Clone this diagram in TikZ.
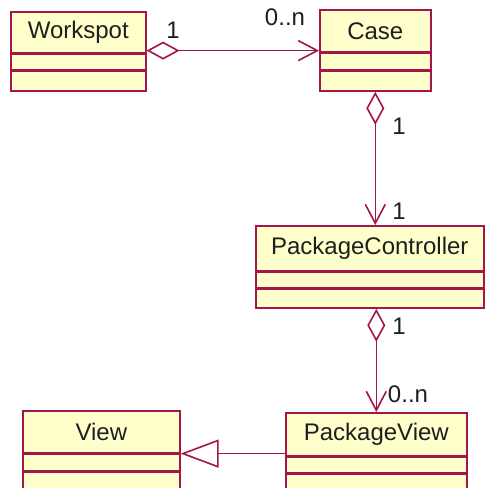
\documentclass[tikz,border=0pt]{standalone}
\usepackage{fontspec}
\setmainfont{Liberation Sans}
\usetikzlibrary{arrows.meta,calc}
\definecolor{umlred}{RGB}{164,22,74}
\definecolor{umlfill}{RGB}{255,255,204}
\definecolor{umltext}{RGB}{30,30,30}
\tikzset{
  umlpart/.style={draw=umlred, fill=umlfill, line width=1.6pt, inner sep=0pt,
    anchor=north west, text=umltext, font=\fontsize{24}{28}\selectfont},
  assoc/.style={draw=umlred, line width=1.6pt},
  mult/.style={text=umltext, inner sep=0pt, font=\fontsize{24}{28}\selectfont},
  aggtail/.tip={Diamond[fill=white, length=33pt, width=18pt]},
  navhead/.tip={Straight Barb[length=19pt, width=20pt]},
  genhead/.tip={Triangle[fill=white, length=38pt, width=28pt]}
}
\begin{document}
\begin{tikzpicture}[x=1pt, y=-1pt]
\useasboundingbox (0,0) rectangle (485,488);
\clip (0,0) rectangle (485,488);

% Workspot
\node[umlpart, minimum width=135pt, minimum height=41pt] (wsT) at (10,11) {Workspot};
\node[umlpart, minimum width=135pt, minimum height=15pt] (wsA) at (wsT.south west) {};
\node[umlpart, minimum width=135pt, minimum height=20pt] (wsO) at (wsA.south west) {};

% Case
\node[umlpart, minimum width=111pt, minimum height=42pt] (caseT) at (319,9) {Case};
\node[umlpart, minimum width=111pt, minimum height=16pt] (caseA) at (caseT.south west) {};
\node[umlpart, minimum width=111pt, minimum height=20pt] (caseO) at (caseA.south west) {};

% PackageController
\node[umlpart, minimum width=228pt, minimum height=45pt] (pcT) at (255,225) {PackageController};
\node[umlpart, minimum width=228pt, minimum height=15pt] (pcA) at (pcT.south west) {};
\node[umlpart, minimum width=228pt, minimum height=19pt] (pcO) at (pcA.south west) {};

% View
\node[umlpart, minimum width=157pt, minimum height=42pt] (viewT) at (22,410) {View};
\node[umlpart, minimum width=157pt, minimum height=16pt] (viewA) at (viewT.south west) {};
\node[umlpart, minimum width=157pt, minimum height=40pt] (viewO) at (viewA.south west) {};

% PackageView
\node[umlpart, minimum width=181pt, minimum height=43pt] (pvT) at (285,412) {PackageView};
\node[umlpart, minimum width=181pt, minimum height=15pt] (pvA) at (pvT.south west) {};
\node[umlpart, minimum width=181pt, minimum height=40pt] (pvO) at (pvA.south west) {};

% Associations
\draw[assoc, aggtail-navhead] ($(wsT.south east)+(0,-3)$) -- ($(caseT.south west)+(0,-2)$);
\draw[assoc, aggtail-navhead] (caseO.south) -- (caseO.south |- pcT.north);
\draw[assoc, aggtail-navhead] (pvT.north |- pcO.south) -- (pvT.north);

% Generalisation
\draw[assoc, -genhead] (pvT.south west |- viewT.south east) -- (viewT.south east);

% Multiplicities
\node[mult] (m1) at (173,30) {1};
\node[mult] (m2) at (285,17) {0..n};
\node[mult] (m3) at (399,126) {1};
\node[mult] (m4) at (399,211) {1};
\node[mult] (m5) at (399,326) {1};
\node[mult] (m6) at (408,394) {0..n};
\end{tikzpicture}
\end{document}
